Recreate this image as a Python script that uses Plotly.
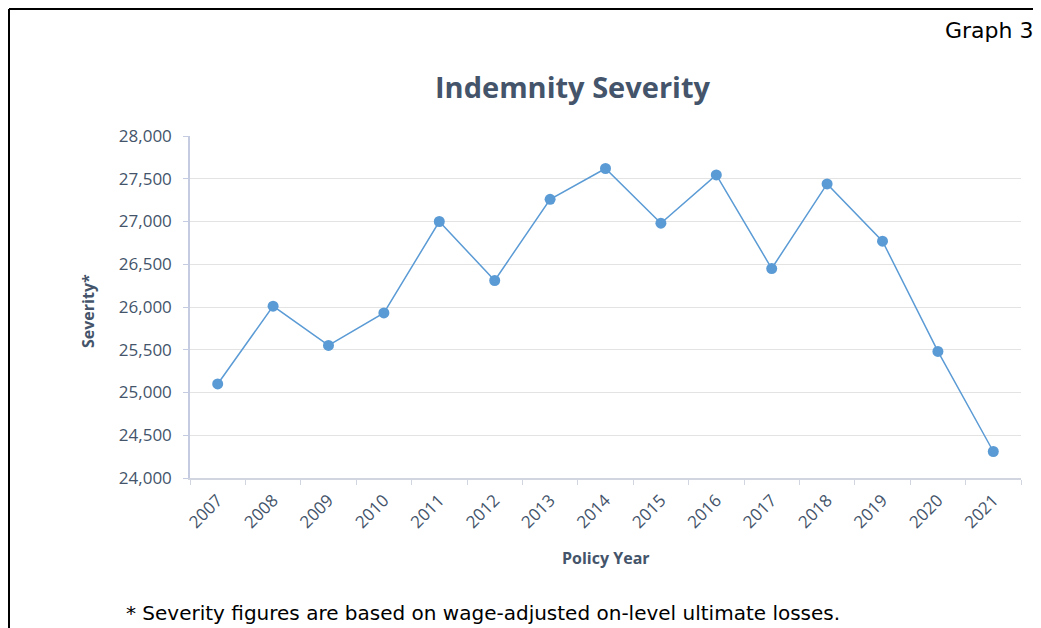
import plotly.graph_objects as go

years = ["2007", "2008", "2009", "2010", "2011", "2012", "2013", "2014",
         "2015", "2016", "2017", "2018", "2019", "2020", "2021"]
severity = [25100, 26010, 25550, 25930, 27000, 26310, 27260, 27620,
            26980, 27545, 26450, 27440, 26770, 25480, 24310]
y_ticks = [24000, 24500, 25000, 25500, 26000, 26500, 27000, 27500, 28000]

# page has an 8px body margin; work in reference-pixel coordinates
OFF = 8
W, H = 1041 - OFF, 628 - OFF
L, R, T, B = 190 - OFF, 1041 - 1021, 136 - OFF, 628 - 478
pw, ph = W - L - R, H - T - B

def px(x):
    return (x - OFF - L) / pw

def py(y):
    return (H - B - (y - OFF)) / ph

text_col = "#44546a"
tick_font = dict(family="Open Sans", size=17, color=text_col)

fig = go.Figure()
fig.add_trace(go.Scatter(
    x=years, y=severity, mode="lines+markers",
    line=dict(color="#5b9bd5", width=1.5),
    marker=dict(color="#5b9bd5", size=11),
    showlegend=False,
))

fig.update_layout(
    width=W, height=H,
    margin=dict(l=L, r=R, t=T, b=B),
    paper_bgcolor="white", plot_bgcolor="white",
    xaxis=dict(
        type="category", tickangle=-45, tickfont=tick_font,
        showgrid=False, showline=True, linecolor="#d0d5e0", linewidth=1.5,
        ticks="outside", tickson="boundaries", ticklen=5, tickcolor="#d0d5e0",
        range=[-0.5, len(years) - 0.5], ticklabelstandoff=4,
    ),
    yaxis=dict(
        range=[24000, 28000], tickvals=y_ticks, tickformat=",",
        tickfont=tick_font, showgrid=True, gridcolor="#e3e3e3", gridwidth=1,
        showline=True, linecolor="#c5cbe0", linewidth=1.5,
        ticks="outside", ticklen=5, tickcolor="#c5cbe0",
        zeroline=False, ticklabelstandoff=8,
    ),
    annotations=[
        dict(text="<b>Indemnity Severity</b>", x=px(572), y=py(87),
             xref="paper", yref="paper", showarrow=False,
             xanchor="center", yanchor="middle",
             font=dict(family="Open Sans", size=29, color=text_col)),
        dict(text="Graph 3", x=px(1035), y=py(30),
             xref="paper", yref="paper", showarrow=False,
             xanchor="right", yanchor="middle",
             font=dict(family="DejaVu Sans", size=22, color="black")),
        dict(text="<b>Severity*</b>", x=px(88), y=py(311),
             xref="paper", yref="paper", showarrow=False, textangle=-90,
             xanchor="center", yanchor="middle",
             font=dict(family="Open Sans", size=16, color=text_col)),
        dict(text="<b>Policy Year</b>", x=px(606), y=py(558),
             xref="paper", yref="paper", showarrow=False,
             xanchor="center", yanchor="middle",
             font=dict(family="Open Sans", size=16, color=text_col)),
        dict(text="* Severity figures are based on wage-adjusted on-level ultimate losses.",
             x=px(124), y=py(613),
             xref="paper", yref="paper", showarrow=False,
             xanchor="left", yanchor="middle",
             font=dict(family="DejaVu Sans", size=20, color="black")),
    ],
    shapes=[
        dict(type="line", xref="paper", yref="paper",
             x0=px(9), x1=px(9), y0=py(9), y1=py(660),
             line=dict(color="black", width=2)),
        dict(type="line", xref="paper", yref="paper",
             x0=px(9), x1=px(1060), y0=py(9), y1=py(9),
             line=dict(color="black", width=2)),
    ],
)

fig.write_html("out.html")
